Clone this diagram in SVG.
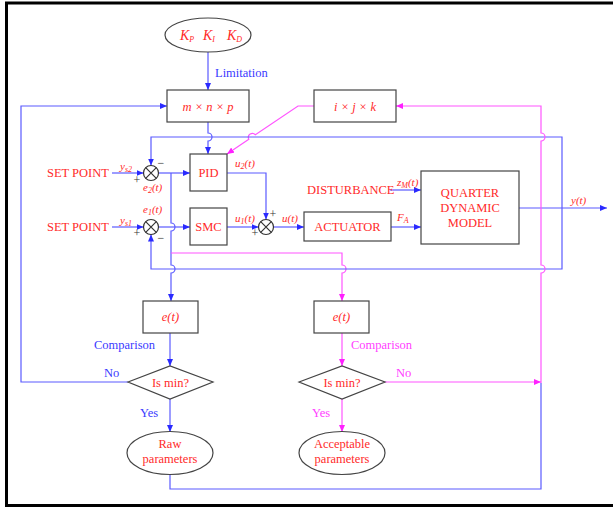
<svg xmlns="http://www.w3.org/2000/svg" width="613" height="509" viewBox="0 0 613 509">
<style>
.box{fill:#fff;stroke:#444;stroke-width:1.2}
.b{fill:none;stroke:#5a5aff;stroke-width:1.2}
.m{fill:none;stroke:#ff55ff;stroke-width:1.2}
.t{font-family:"Liberation Serif",serif;font-size:12.5px;fill:#ff2a2a}
.ti{font-family:"Liberation Serif",serif;font-size:11px;font-style:italic;fill:#ff2a2a}
.tk{font-family:"Liberation Serif",serif;font-size:14px;font-style:italic;fill:#ff2a2a}
.tb{font-family:"Liberation Serif",serif;font-size:12.5px;fill:#3a3aff}
.tm{font-family:"Liberation Serif",serif;font-size:12.5px;fill:#ff40ff}
.sg{font-family:"Liberation Serif",serif;font-size:12px;fill:#333}
.sub{font-size:8px}
</style>
<defs>
<marker id="ab" markerWidth="7" markerHeight="6" refX="7" refY="3" orient="auto" markerUnits="userSpaceOnUse"><path d="M0,0 L7,3 L0,6 z" fill="#2a2aff"/></marker>
<marker id="am" markerWidth="7" markerHeight="6" refX="7" refY="3" orient="auto" markerUnits="userSpaceOnUse"><path d="M0,0 L7,3 L0,6 z" fill="#ff20ff"/></marker>
<g id="sumj"><circle cx="0" cy="0" r="7.5" fill="#fff" stroke="#333" stroke-width="1.2"/><path d="M-5.3,-5.3 L5.3,5.3 M-5.3,5.3 L5.3,-5.3" stroke="#333" stroke-width="1.2"/></g>
</defs>
<!-- frame -->
<path d="M615,3 L6.5,3 L6.5,505.5 L615,505.5" fill="none" stroke="#000" stroke-width="3"/>

<g id="connectors">
<path class="b" d="M208,52 L208,90" marker-end="url(#ab)"/>
<path class="b" d="M208,122 L208,133 A4,4 0 0 1 208,141 L208,154" marker-end="url(#ab)"/>
<path class="m" d="M314,106 L298,106 L255.4,134.8 A4,4 0 0 0 248.8,139.2 L227,154" marker-end="url(#am)"/>
<path class="b" d="M112,173 L143.5,173" marker-end="url(#ab)"/>
<path class="b" d="M112,227 L143.5,227" marker-end="url(#ab)"/>
<path class="b" d="M158.5,173 L190,173" marker-end="url(#ab)"/>
<path class="b" d="M158.5,227 L190,227" marker-end="url(#ab)"/>
<path class="b" d="M171,173 L171,223 A4,4 0 0 1 171,231 L171,265 A4,4 0 0 1 171,273 L171,301" marker-end="url(#ab)"/>
<path class="m" d="M171,253 L342,253 L342,265 A4,4 0 0 1 342,273 L342,301" marker-end="url(#am)"/>
<path class="b" d="M227,173 L266,173 L266,219.5" marker-end="url(#ab)"/>
<path class="b" d="M227,227 L258.5,227" marker-end="url(#ab)"/>
<path class="b" d="M273.5,227 L304,227" marker-end="url(#ab)"/>
<path class="b" d="M391,227 L421,227" marker-end="url(#ab)"/>
<path class="b" d="M390,190 L421,190" marker-end="url(#ab)"/>
<path class="b" d="M519,208 L607,208" marker-end="url(#ab)"/>
<path class="b" d="M562,208 L562,137 L151,137 L151,165.5" marker-end="url(#ab)"/>
<path class="b" d="M562,208 L562,269 L151,269 L151,234.5" marker-end="url(#ab)"/>
<path class="b" d="M170,333 L170,366" marker-end="url(#ab)"/>
<path class="b" d="M170,399 L170,432" marker-end="url(#ab)"/>
<path class="b" d="M128,382 L21,382 L21,106 L167,106" marker-end="url(#ab)"/>
<path class="m" d="M342,333 L342,366" marker-end="url(#am)"/>
<path class="m" d="M342,399 L342,432" marker-end="url(#am)"/>
<path class="m" d="M385,382 L541,382" marker-end="url(#am)"/>
<path class="b" d="M170,475 L170,489 L541,489 L541,383"/>
<path class="m" d="M541,383 L541,273 A4,4 0 0 0 541,265 L541,141 A4,4 0 0 0 541,133 L541,106 L396,106" marker-end="url(#am)"/>
</g>

<g id="gains">
<ellipse cx="208" cy="35" rx="43" ry="17" fill="#fff" stroke="#444" stroke-width="1.2"/>
<text class="tk" x="180" y="40">K<tspan class="sub" dy="2">P</tspan></text>
<text class="tk" x="203" y="40">K<tspan class="sub" dy="2">I</tspan></text>
<text class="tk" x="227" y="40">K<tspan class="sub" dy="2">D</tspan></text>
</g>
<text class="tb" x="215" y="77">Limitation</text>

<g id="mnp"><rect class="box" x="167" y="90" width="82" height="32"/><text class="t" x="208" y="111" text-anchor="middle" font-style="italic">m × n × p</text></g>
<g id="ijk"><rect class="box" x="314" y="90" width="82" height="32"/><text class="t" x="355" y="111" text-anchor="middle" font-style="italic">i × j × k</text></g>

<g id="pid"><rect class="box" x="190" y="154" width="37" height="37"/><text class="t" x="208.5" y="177" text-anchor="middle">PID</text></g>
<g id="smc"><rect class="box" x="190" y="208" width="37" height="37"/><text class="t" x="208.5" y="231" text-anchor="middle">SMC</text></g>
<g id="actuator"><rect class="box" x="304" y="212" width="87" height="29"/><text class="t" x="347.5" y="231" text-anchor="middle" font-size="11.5">ACTUATOR</text></g>
<g id="model"><rect class="box" x="421" y="171" width="98" height="73"/>
<text class="t" x="470" y="197" text-anchor="middle">QUARTER</text>
<text class="t" x="470" y="212" text-anchor="middle">DYNAMIC</text>
<text class="t" x="470" y="227" text-anchor="middle">MODEL</text></g>

<g id="j2"><use href="#sumj" x="151" y="173"/></g>
<g id="j1"><use href="#sumj" x="151" y="227"/></g>
<g id="j3"><use href="#sumj" x="266" y="227"/></g>

<g id="sp2"><text class="t" x="47" y="177" font-size="12.3">SET POINT</text></g>
<g id="sp1"><text class="t" x="47" y="231" font-size="12.3">SET POINT</text></g>
<g id="dist"><text class="t" x="307" y="194" font-size="11.5">DISTURBANCE</text></g>

<text class="ti" x="120" y="170">y<tspan class="sub" dy="2">s2</tspan></text>
<text class="ti" x="120" y="224">y<tspan class="sub" dy="2">s1</tspan></text>
<text class="ti" x="143" y="191">e<tspan class="sub" dy="2">2</tspan><tspan dy="-2">(t)</tspan></text>
<text class="ti" x="143" y="213">e<tspan class="sub" dy="2">1</tspan><tspan dy="-2">(t)</tspan></text>
<text class="ti" x="235" y="167">u<tspan class="sub" dy="2">2</tspan><tspan dy="-2">(t)</tspan></text>
<text class="ti" x="235" y="222">u<tspan class="sub" dy="2">1</tspan><tspan dy="-2">(t)</tspan></text>
<text class="ti" x="282" y="222">u(t)</text>
<text class="ti" x="397" y="221">F<tspan class="sub" dy="2">A</tspan></text>
<text class="ti" x="397" y="186">z<tspan class="sub" dy="2">M</tspan><tspan dy="-2">(t)</tspan></text>
<text class="ti" x="571" y="204">y(t)</text>

<text class="sg" x="161" y="167" text-anchor="middle">−</text>
<text class="sg" x="137" y="184" text-anchor="middle">+</text>
<text class="sg" x="137" y="237" text-anchor="middle">+</text>
<text class="sg" x="161" y="242" text-anchor="middle">−</text>
<text class="sg" x="273" y="218" text-anchor="middle">+</text>
<text class="sg" x="255" y="237" text-anchor="middle">+</text>

<g id="e_left"><rect class="box" x="143" y="301" width="55" height="32"/><text class="t" x="170.5" y="321" text-anchor="middle" font-style="italic">e(t)</text></g>
<text class="tb" x="94" y="349">Comparison</text>
<g id="min_left"><path class="box" d="M128,382 L170,366 L213,382 L170,399 z"/><text class="t" x="170.5" y="386.5" text-anchor="middle">Is min?</text></g>
<text class="tb" x="104" y="377">No</text>
<text class="tb" x="140" y="417">Yes</text>
<g id="raw"><ellipse cx="170" cy="453" rx="43" ry="21.5" fill="#fff" stroke="#444" stroke-width="1.2"/>
<text class="t" x="170" y="448" text-anchor="middle">Raw</text>
<text class="t" x="170" y="463" text-anchor="middle">parameters</text></g>

<g id="e_right"><rect class="box" x="314" y="301" width="55" height="32"/><text class="t" x="341.5" y="321" text-anchor="middle" font-style="italic">e(t)</text></g>
<text class="tm" x="351" y="349">Comparison</text>
<g id="min_right"><path class="box" d="M299,382 L342,366 L385,382 L342,399 z"/><text class="t" x="342" y="386.5" text-anchor="middle">Is min?</text></g>
<text class="tm" x="396" y="377">No</text>
<text class="tm" x="312" y="417">Yes</text>
<g id="acceptable"><ellipse cx="342" cy="453" rx="43" ry="21.5" fill="#fff" stroke="#444" stroke-width="1.2"/>
<text class="t" x="342" y="448" text-anchor="middle">Acceptable</text>
<text class="t" x="342" y="463" text-anchor="middle">parameters</text></g>
</svg>
